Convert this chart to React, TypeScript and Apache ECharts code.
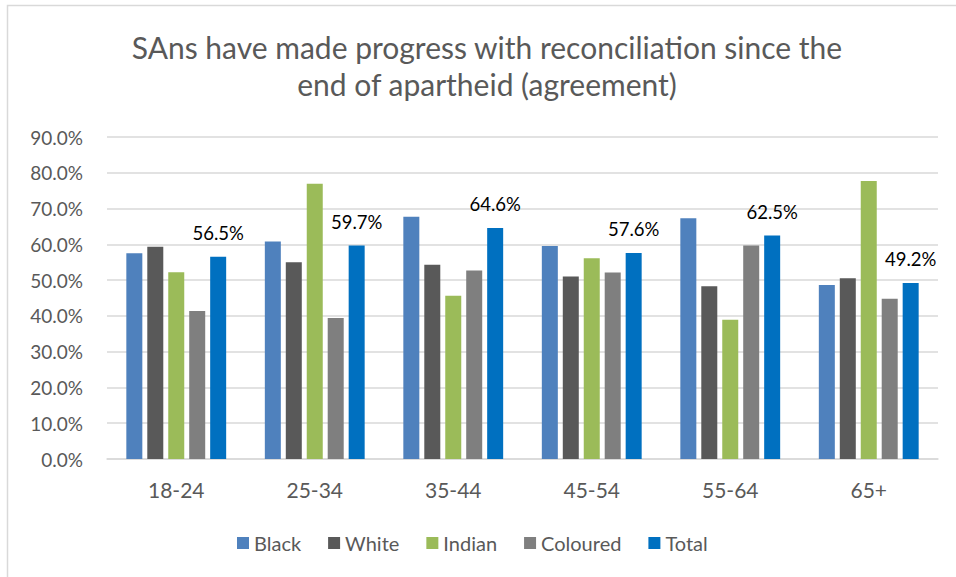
import React, { useEffect, useRef } from "react";
import * as echarts from "echarts";

const categories = ["18-24", "25-34", "35-44", "45-54", "55-64", "65+"];
const seriesNames = ["Black", "White", "Indian", "Coloured", "Total"];
const black = [57.5, 60.8, 67.7, 59.5, 67.3, 48.6];
const white = [59.3, 55.0, 54.3, 51.0, 48.3, 50.5];
const indian = [52.2, 76.9, 45.6, 56.1, 38.9, 77.7];
const coloured = [41.4, 39.4, 52.7, 52.1, 59.7, 44.8];
const total = [56.5, 59.7, 64.6, 57.6, 62.5, 49.2];
const colors = ["#4f81bd", "#595959", "#9bbb59", "#7f7f7f", "#0070c0"];
const yTicks = { min: 0, max: 90, interval: 10 };
const titleText = "SAns have made progress with reconciliation since the\nend of apartheid (agreement)";

const FONT = "Lato, 'Open Sans', sans-serif";

export default function App() {
  const ref = useRef<HTMLDivElement>(null);
  useEffect(() => {
    if (!ref.current) return;
    const chart = echarts.init(ref.current, null, { renderer: "svg" });
    const data = [black, white, indian, coloured, total];
    chart.setOption({
      animation: false,
      backgroundColor: "#ffffff",
      textStyle: { fontFamily: FONT },
      graphic: [
        {
          type: "rect",
          shape: { x: 7.5, y: 5.5, width: 1000, height: 700 },
          style: { fill: "none", stroke: "#d9d9d9", lineWidth: 1.5 },
          silent: true,
        },
        {
          type: "text",
          x: 487,
          y: 28,
          style: {
            text: titleText,
            textAlign: "center",
            textVerticalAlign: "top",
            fontFamily: FONT,
            fontSize: 30,
            lineHeight: 37,
            fill: "#595959",
          },
        },
      ],
      legend: {
        data: seriesNames,
        left: 232,
        top: 528,
        itemWidth: 12,
        itemHeight: 12,
        itemGap: 27,
        icon: "rect",
        textStyle: { fontFamily: FONT, fontSize: 20, color: "#595959" },
      },
      grid: { left: 107, right: 18, top: 137, bottom: 118, containLabel: false },
      xAxis: {
        type: "category",
        data: categories,
        axisLine: { lineStyle: { color: "#d9d9d9", width: 1.5 } },
        axisTick: { show: false },
        axisLabel: { fontFamily: FONT, fontSize: 21, color: "#595959", margin: 20 },
      },
      yAxis: {
        type: "value",
        min: yTicks.min,
        max: yTicks.max,
        interval: yTicks.interval,
        axisLine: { show: false },
        axisTick: { show: false },
        splitLine: { lineStyle: { color: "#d9d9d9", width: 1.5 } },
        axisLabel: {
          fontFamily: FONT,
          fontSize: 19,
          color: "#595959",
          margin: 24,
          formatter: (v: number) => v.toFixed(1) + "%",
        },
      },
      series: seriesNames.map((name, i) => ({
        name,
        type: "bar",
        data: data[i],
        barWidth: 16,
        barGap: "31%",
        itemStyle: { color: colors[i] },
        label:
          name === "Total"
            ? {
                show: true,
                position: "top",
                distance: 14,
                fontFamily: FONT,
                fontSize: 18.5,
                color: "#000000",
                formatter: (p: any) => p.value.toFixed(1) + "%",
              }
            : { show: false },
      })),
    });
    return () => chart.dispose();
  }, []);
  return (
    <div
      ref={ref}
      style={{ position: "fixed", left: 0, top: 0, width: 956, height: 577 }}
    />
  );
}
